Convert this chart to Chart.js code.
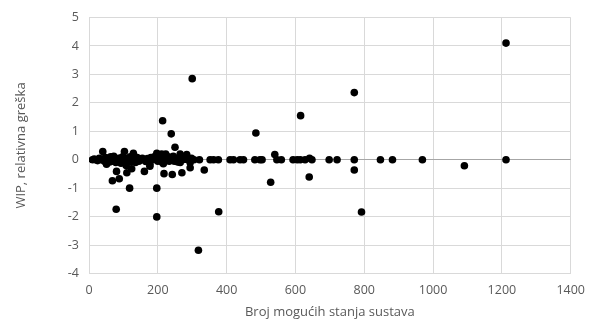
<!DOCTYPE html>
<html>
<head>
<meta charset="utf-8">
<script src="https://cdn.jsdelivr.net/npm/chart.js@4"></script>
<style>
  body { margin: 0; background: #fff; }
  #wrap { width: 594px; height: 322px; }
</style>
</head>
<body>
<div id="wrap"><canvas id="wipChart"></canvas></div>
<script>
// broj mogucih stanja (x) i relativna greska WIP (y)
const brojStanja = [
  10, 15, 20, 25, 30, 35, 40, 42, 45, 48, 51, 55, 58, 60, 63, 66, 70, 72, 75, 78,
  80, 82, 85, 88, 90, 93, 95, 98, 100, 103, 105, 108, 110, 112, 115, 118, 120, 122, 124, 126,
  129, 132, 135, 138, 140, 145, 150, 155, 160, 161, 165, 170, 175, 177, 177, 180, 185, 190, 195, 197,
  200, 203, 206, 209, 211, 212, 216, 218, 220, 223, 226, 230, 233, 236, 240, 242, 245, 248, 252, 255,
  258, 262, 265, 265, 270, 272, 275, 280, 284, 288, 294, 294, 298, 305, 321, 335, 352, 362, 376, 410,
  420, 439, 449, 482, 497, 503, 540, 546, 559, 593, 605, 614, 628, 641, 648, 698, 721, 771, 847, 882,
  969, 1212,
  300, 1212, 771, 615, 485, 214, 239, 250, 1091, 771, 640, 528, 792, 79, 197, 377, 318, 197, 68
];
const relativnaGreska = [
  0, 0.02, 0, -0.03, 0.05, 0, 0.29, 0.02, -0.05, 0.08, -0.16, 0, 0.05, -0.08, 0.1, 0, -0.05, 0.12, 0, -0.1,
  -0.41, 0.04, 0, -0.67, 0.06, -0.12, 0, 0.1, -0.05, 0.29, 0, -0.2, -0.46, 0.05, 0, -1.0, 0.1, -0.08, -0.32, 0,
  0.23, 0.05, -0.1, 0, 0.08, -0.05, 0, 0.05, 0, -0.41, -0.06, 0.04, 0, -0.16, -0.23, 0.08, 0, 0.1, 0.03, 0.23,
  -0.05, 0.12, 0, 0.15, 0.2, -0.08, -0.14, -0.49, 0.05, 0.2, 0, 0.1, -0.05, 0.08, 0, -0.52, 0.12, -0.05, 0.05, 0,
  -0.08, 0.05, 0.2, -0.1, -0.46, 0, 0.08, 0.02, 0.18, 0, -0.28, -0.1, 0.05, 0, 0, -0.36, 0, 0, 0, 0,
  0, 0, 0, 0, 0, 0, 0.18, 0, 0, 0, 0, 0, 0, 0.05, 0, 0, 0, 0, 0, 0,
  0, 0,
  2.85, 4.1, 2.36, 1.55, 0.94, 1.37, 0.91, 0.44, -0.21, -0.36, -0.61, -0.79, -1.84, -1.74, -2.01, -1.83, -3.18, -1.0, -0.74
];
const xTicks = [0, 200, 400, 600, 800, 1000, 1200, 1400];
const yTicks = [-4, -3, -2, -1, 0, 1, 2, 3, 4, 5];

const tocke = brojStanja.map((x, i) => ({ x: x, y: relativnaGreska[i] }));
const siva = '#595959';

const ctx = document.getElementById('wipChart').getContext('2d');
new Chart(ctx, {
  type: 'scatter',
  data: {
    datasets: [{
      label: 'WIP',
      data: tocke,
      backgroundColor: '#000000',
      borderWidth: 0,
      pointRadius: 3.8,
      pointHoverRadius: 3.8
    }]
  },
  options: {
    responsive: true,
    maintainAspectRatio: false,
    animation: false,
    layout: { padding: { top: 16, right: 23, left: 0, bottom: 0 } },
    plugins: { legend: { display: false }, tooltip: { enabled: false } },
    scales: {
      x: {
        type: 'linear',
        min: xTicks[0],
        max: xTicks[xTicks.length - 1],
        afterFit: s => { s.height = 48.5; },
        afterBuildTicks: s => { s.ticks = xTicks.map(v => ({ value: v })); },
        ticks: { color: siva, font: { family: 'Open Sans', size: 12.5 }, padding: 9, maxRotation: 0,
                 callback: v => String(v) },
        grid: { color: '#d9d9d9', drawTicks: false },
        border: { display: false },
        title: { display: true, text: 'Broj mogućih stanja sustava', color: siva,
                 font: { family: 'Open Sans', size: 13 }, padding: { top: 0, bottom: 2 } }
      },
      y: {
        min: yTicks[0],
        max: yTicks[yTicks.length - 1],
        afterFit: s => { s.width = 89; },
        afterBuildTicks: s => { s.ticks = yTicks.map(v => ({ value: v })); },
        ticks: { color: siva, font: { family: 'Open Sans', size: 12.5 }, padding: 10,
                 callback: v => String(v) },
        grid: {
          color: c => c.tick && c.tick.value === 0 ? '#a6a6a6' : '#d9d9d9',
          drawTicks: false
        },
        border: { display: false },
        title: { display: true, text: 'WIP, relativna greška', color: siva,
                 font: { family: 'Open Sans', size: 13 }, padding: { top: 13, bottom: 0 } }
      }
    }
  }
});
</script>
</body>
</html>
